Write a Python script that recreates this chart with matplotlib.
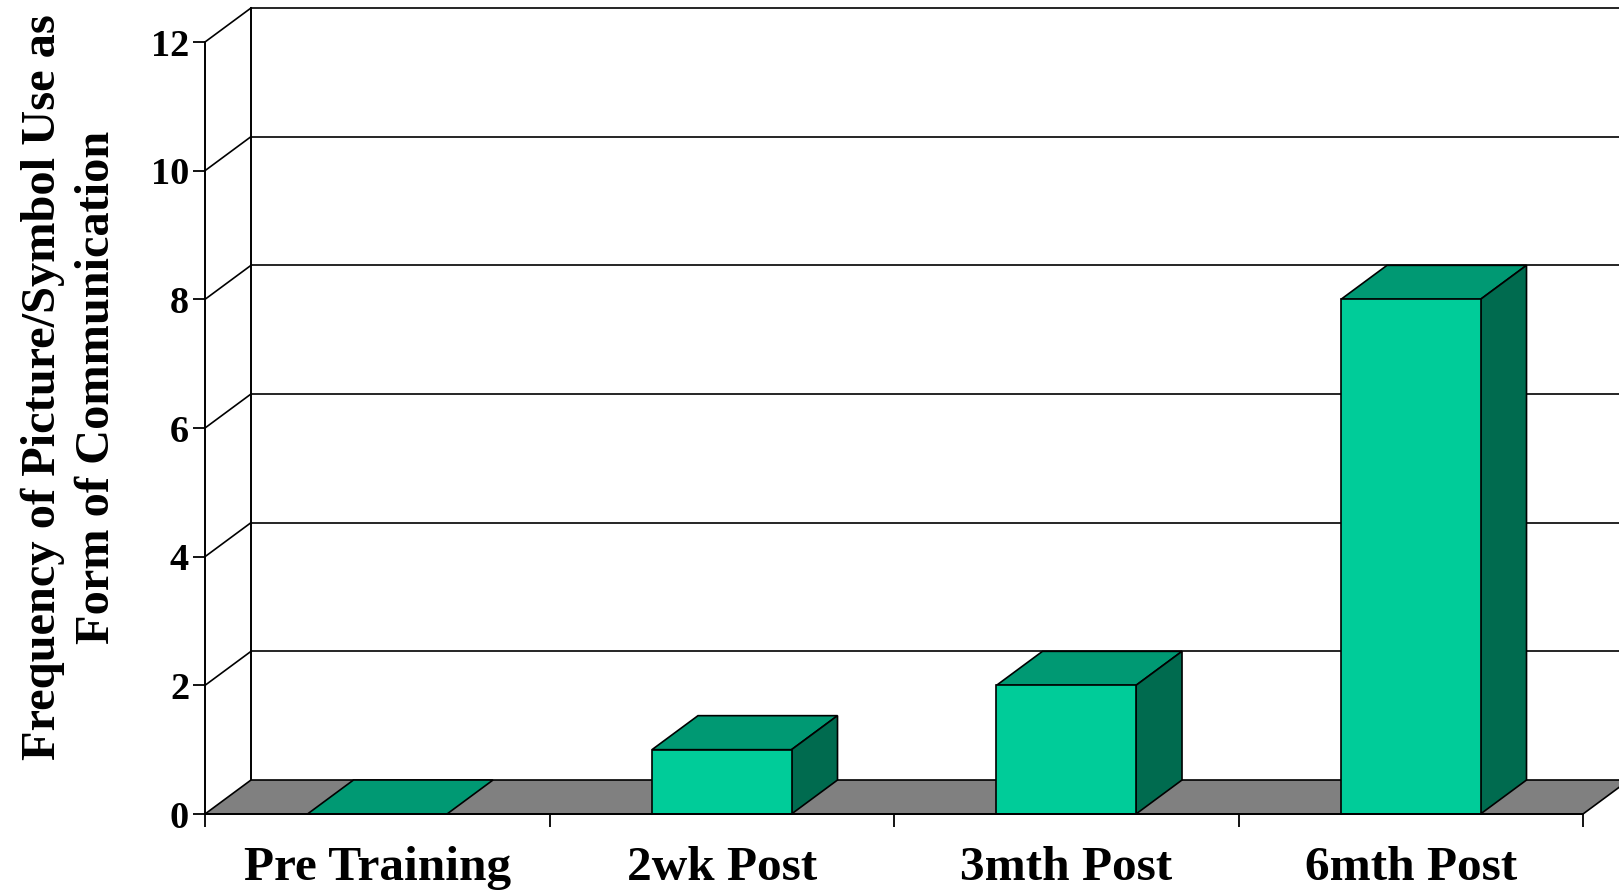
import matplotlib
matplotlib.use('Agg')
import matplotlib.pyplot as plt
from matplotlib.patches import Polygon
from matplotlib.lines import Line2D
from matplotlib.transforms import ScaledTranslation
import numpy as np

categories = ['Pre Training', '2wk Post', '3mth Post', '6mth Post']
values = [0, 1, 2, 8]
y_ticks = [0, 2, 4, 6, 8, 10, 12]
y_label = 'Frequency of Picture/Symbol Use as\nForm of Communication'

FRONT = '#00CC99'
TOP = '#009973'
SIDE = '#006B4F'
FLOOR = '#808080'
BAR_W = 0.405

plt.rcParams['font.family'] = ['Liberation Serif', 'DejaVu Serif']
plt.rcParams['font.weight'] = 'bold'

W, H = 1619, 890
fig = plt.figure(figsize=(W / 100, H / 100), dpi=100)
ax = fig.add_axes([205 / W, 76 / H, 1378 / W, 772 / H])
n = len(categories)
ax.set_xlim(0, n)
ax.set_ylim(0, max(y_ticks))
ax.patch.set_visible(False)
for s in ['top', 'right']:
    ax.spines[s].set_visible(False)
for s in ['left', 'bottom']:
    ax.spines[s].set_linewidth(1.4)
    ax.spines[s].set_zorder(10)

# depth offset of the 3D look (back plane)
depth = ScaledTranslation(0.46, 0.34, fig.dpi_scale_trans)
back_t = ax.transData + depth
inv = ax.transData.inverted()


def B(x, y):
    return tuple(inv.transform(back_t.transform((x, y))))


lw = 1.2
ymax = max(y_ticks)
# back wall left edge
bx0, by0 = B(0, 0)
bx1, by1 = B(0, ymax)
ax.add_line(Line2D([bx0, bx1], [by0, by1], color='black', lw=1.4, clip_on=False, zorder=1))
# gridlines on back wall and side wall diagonals
for yv in y_ticks[1:]:
    p0 = B(0, yv)
    p1 = B(n, yv)
    ax.add_line(Line2D([p0[0], p1[0]], [p0[1], p1[1]], color='black', lw=lw,
                       clip_on=False, zorder=1))
    ax.add_line(Line2D([0, p0[0]], [yv, p0[1]], color='black', lw=lw,
                       clip_on=False, zorder=1))

# floor
floor = Polygon([(0, 0), (n, 0), B(n, 0), B(0, 0)], closed=True,
                facecolor=FLOOR, edgecolor='black', lw=lw, clip_on=False, zorder=2)
ax.add_patch(floor)

# bars
for i, v in enumerate(values):
    c = i + 0.5
    x0, x1 = c - BAR_W / 2, c + BAR_W / 2
    top = Polygon([(x0, v), (x1, v), B(x1, v), B(x0, v)], closed=True,
                  facecolor=TOP, edgecolor='black', lw=lw, clip_on=False, zorder=3)
    ax.add_patch(top)
    if v > 0:
        side = Polygon([(x1, 0), B(x1, 0), B(x1, v), (x1, v)], closed=True,
                       facecolor=SIDE, edgecolor='black', lw=lw, clip_on=False, zorder=3)
        front = Polygon([(x0, 0), (x1, 0), (x1, v), (x0, v)], closed=True,
                        facecolor=FRONT, edgecolor='black', lw=lw, clip_on=False, zorder=4)
        ax.add_patch(side)
        ax.add_patch(front)

# ticks
ax.set_yticks(y_ticks)
ax.set_yticklabels([str(t) for t in y_ticks], fontsize=27.5, fontweight='bold')
ax.tick_params(axis='y', length=8.5, width=1.3, pad=3)
ax.set_xticks(np.arange(n + 1))
ax.set_xticklabels([])
ax.tick_params(axis='x', which='major', length=9, width=1.3)
ax.set_xticks(np.arange(n) + 0.5, minor=True)
ax.set_xticklabels(categories, minor=True, fontsize=35.5, fontweight='bold')
ax.tick_params(axis='x', which='minor', length=0, pad=23)

fig.text(70 / W, 1 - 387 / H, y_label, rotation=90, ha='center', va='center',
         multialignment='center', fontsize=34.8, fontweight='bold', linespacing=1.3)

fig.savefig('out.png', dpi=100)
